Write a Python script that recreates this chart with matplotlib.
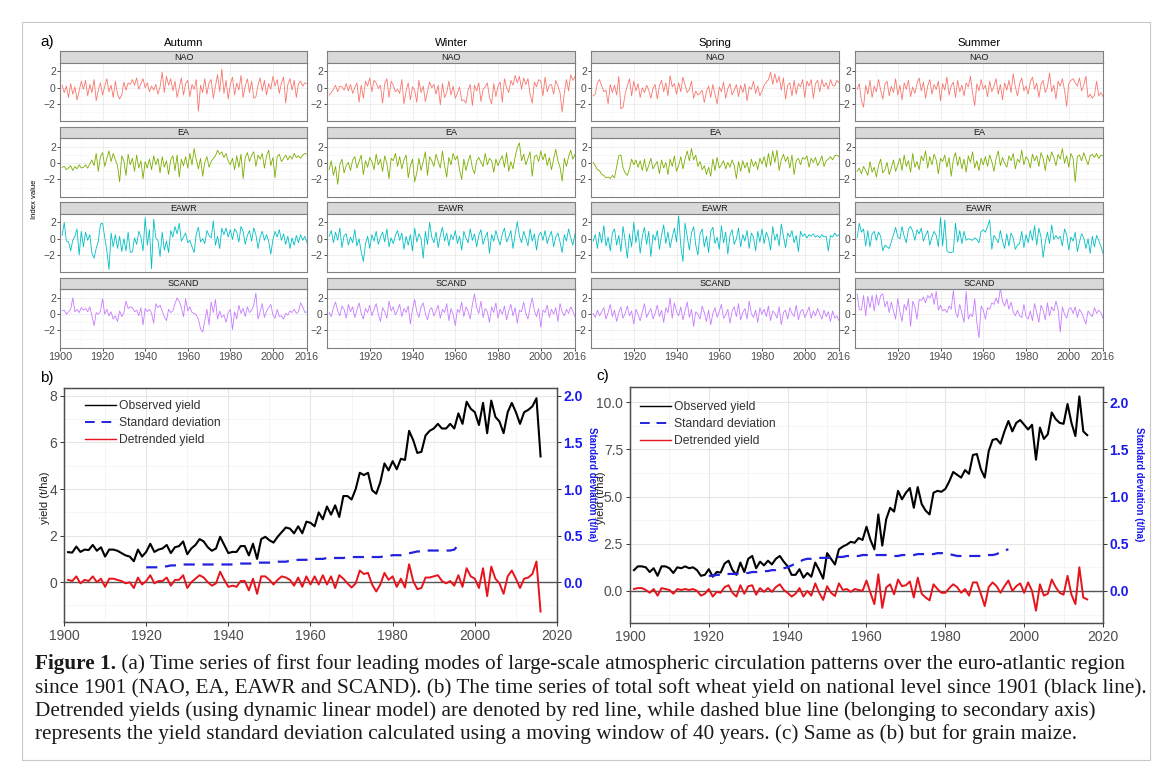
import numpy as np
import matplotlib
matplotlib.use('Agg')
import matplotlib.pyplot as plt
from matplotlib.patches import Rectangle
from matplotlib.lines import Line2D

plt.rcParams['font.family'] = ['Liberation Sans', 'DejaVu Sans']

# ---------------- data ----------------
seasons = ['Autumn', 'Winter', 'Spring', 'Summer']
indices = ['NAO', 'EA', 'EAWR', 'SCAND']
index_colors = ['#F8766D', '#7CAE00', '#00BFC4', '#C77CFF']
first_year = 1901

autumn_nao = [0.3, -0.6, 0.2, -1.2, 0.5, -0.8, 0.1, -1.5, -0.4, 0.8,
              -0.2, 0.9, -1.0, 0.4, -0.6, 1.0, -1.6, -0.3, 0.6, -0.9,
              0.2, 1.1, -0.5, 0.3, -1.2, 0.8, -0.8, -1.4, -0.9, 0.7,
              -0.3, 0.6, 0.4, 1.0, 0.3, 1.2, -0.2, 0.5, 1.1, 0.0,
              0.6, -0.5, 0.2, -0.3, 0.4, -0.8, 0.1, 1.9, -0.6, 1.4,
              0.3, 1.1, -0.4, 0.8, -1.2, 0.0, 1.2, -0.9, 0.5, 0.9,
              -1.1, 0.4, -0.2, 1.0, -2.9, 0.3, -0.6, 1.1, -0.8, 0.6,
              1.0, -1.3, 0.2, 1.6, -0.5, 2.3, -0.7, 0.9, -1.4, 0.4,
              1.3, -0.9, 0.6, -0.3, 1.5, -1.2, 0.2, 1.1, -0.6, 0.8,
              -1.3, -1.1, 0.3, 1.2, -0.4, 0.9, -0.9, 0.5, -0.2, 1.4,
              0.2, 1.0, -0.7, 0.6, 1.3, -1.9, 0.4, 1.1, -0.3, 0.9,
              -1.2, 0.5, 0.8, 0.2, 0.6, 0.5]
autumn_ea = [-0.5, -0.4, -0.8, -0.6, -0.3, -0.9, -0.4, -0.7, -0.2, -0.6,
             -0.5, -0.2, -0.6, -0.1, 0.4, -0.3, 1.2, -1.0, 0.8, 1.3,
             -0.4, 0.6, 1.5, 0.2, 1.2, 0.4, -0.3, -2.3, 0.9, 0.3,
             -1.5, 1.1, -0.2, 0.6, -1.0, 1.0, -0.6, 0.3, -1.9, 0.2,
             -0.6, 0.5, -0.8, 0.9, -0.2, 0.6, -1.2, 0.8, -0.5, 0.3,
             -1.4, 0.4, 0.9, -0.9, 1.0, -1.7, 0.5, -0.3, 0.8, -0.6,
             1.2, -0.2, 1.8, 0.4, -0.7, 0.6, -1.6, 0.1, 0.8, -0.5,
             0.2, 0.6, 0.9, 1.6, 1.1, 1.4, 0.7, 1.2, 0.3, -0.2,
             0.6, -0.8, 0.9, -0.5, 1.1, -1.9, 0.7, 1.3, 0.2, 1.0,
             1.4, -0.4, 1.0, 0.5, 1.2, -0.6, 0.9, 1.6, -0.3, 0.7,
             -1.8, 0.8, 1.1, 0.2, 0.6, 1.0, 0.4, 0.9, 0.5, 1.2,
             0.7, 0.9, 0.6, 1.0, 1.2, 1.1]
autumn_eawr = [0.4, 2.0, -0.3, -0.4, -1.5, -0.2, 0.3, 1.2, -2.0, 0.9,
               -1.0, 0.8, -0.2, 0.5, -1.8, -2.4, -1.2, -0.3, 1.8, 1.9,
               0.2, -1.5, -3.8, 0.7, -1.0, 0.5, -1.2, 0.3, -1.6, 0.0,
               -1.5, 0.8, -1.7, -1.6, 0.1, -0.7, 0.9, 0.2, -1.5, 2.6,
               -0.8, 1.1, -3.7, 2.4, 0.1, -0.2, -2.2, 0.8, -1.4, -0.3,
               -1.7, 1.0, 0.2, 1.5, 0.6, 1.9, -0.3, 0.2, 0.7, -0.5,
               -0.2, -1.0, -1.7, 0.6, 1.4, -0.4, 0.0, -0.6, 1.0, 0.4,
               0.1, 2.2, -0.8, 0.3, -1.2, 1.3, 0.5, 1.3, 0.2, 1.1,
               -0.1, 1.2, 0.8, -0.4, 1.5, 0.9, -0.7, 0.4, 1.0, -0.3,
               1.3, 0.5, -1.2, 0.2, 0.9, -0.2, 0.5, -0.3, -1.9, -0.1,
               0.9, 0.2, 1.1, -0.2, 0.6, -0.7, 0.3, -1.2, 0.1, -0.8,
               0.4, -0.5, 0.5, -0.2, 0.3, -0.5]
autumn_scand = [0.4, 0.5, 0.0, 0.3, 0.6, 2.0, 0.3, 0.6, 0.2, 0.8,
                0.5, 0.7, 0.3, 0.9, -0.2, -1.4, 0.2, 0.0, 0.4, 1.9,
                0.0, 0.6, -0.2, 0.3, -0.6, -0.2, -0.9, 0.4, -0.3, 0.2,
                1.6, 0.7, 0.9, 0.8, 0.3, 0.5, -0.2, 0.8, -1.3, 0.7,
                0.3, 0.6, 0.1, -1.1, 1.3, 0.8, 1.1, 0.4, -0.3, -0.8,
                0.6, 0.2, 0.4, 1.3, 2.0, 1.6, 0.8, -0.3, 1.9, 0.4,
                0.9, 0.2, 0.1, -0.1, -0.6, -1.8, -2.2, -0.8, 0.6, -1.3,
                1.5, 0.2, 1.8, -0.6, 0.4, -0.4, -0.1, -1.0, 0.2, 0.6,
                -1.9, 0.3, -0.6, 1.1, 0.1, 0.7, -0.3, 0.9, 0.2, 0.5,
                1.1, 2.6, -0.6, 0.3, 1.3, -0.4, 0.4, 0.8, 1.2, -0.1,
                -0.5, 0.6, -0.3, -0.2, -0.6, 0.1, -0.1, 0.4, 0.2, 0.6,
                0.1, 0.3, 1.4, 0.9, 0.2, 0.3]
winter_nao = [-0.9, -0.6, -0.2, 0.3, -0.5, 0.2, 0.1, -0.3, 0.5, -0.4,
              0.4, -0.7, 0.0, 0.6, -1.8, 0.3, -1.3, 0.8, 0.2, 1.2,
              -0.5, 0.9, 0.6, -0.1, 0.3, -1.9, 0.5, 1.1, -1.2, 0.8,
              0.3, -0.5, -0.2, -0.7, 1.0, -2.0, -0.4, 0.6, -1.5, 0.1,
              -0.3, -1.8, 0.9, -0.6, 0.2, -1.7, -0.5, 0.7, 0.0, 0.4,
              -0.8, 0.3, -2.1, 0.5, -1.2, -0.6, 0.8, -0.9, 0.2, -1.3,
              -0.7, 0.1, -1.6, -1.5, -1.9, -0.3, 0.4, -2.2, 0.3, -0.4,
              0.6, -1.7, -0.2, 0.1, 0.6, -1.2, -2.0, 0.5, -1.1, 0.2,
              0.7, -1.8, 1.1, 0.0, -0.6, 0.9, 0.3, 1.5, 0.6, 1.4,
              -0.2, 1.2, 0.4, 1.1, -0.8, -1.9, 0.7, 0.1, 1.0, 0.8,
              -1.0, 1.3, -0.5, 0.3, 0.4, -0.8, 0.9, 0.2, -0.6, -3.0,
              -0.7, 1.0, -0.4, 1.6, 0.9, 1.4]
winter_ea = [-0.8, 0.3, -1.5, -0.4, -2.6, -0.2, 0.5, -1.2, -0.3, 0.1,
             -0.9, 0.4, 0.8, -0.6, 0.2, 1.0, -1.4, 0.3, -0.5, 0.7,
             0.2, -0.8, 1.1, -0.2, 0.5, -1.0, 0.9, 0.0, -1.9, 0.6,
             0.3, 1.2, -0.4, 0.8, -0.7, 0.4, 1.0, -1.8, -0.3, 0.5,
             -2.3, -1.2, 0.6, -0.9, 0.2, 1.4, -1.5, 0.8, 0.3, -0.4,
             1.1, 0.2, -0.6, 1.5, -0.3, -1.7, 0.7, -0.2, 1.2, 0.4,
             0.9, -0.8, -2.0, 0.5, -0.9, 0.2, 1.0, -0.6, -1.3, 0.3,
             0.7, 0.1, -0.4, 1.2, -0.2, 0.6, 0.3, -1.1, 0.5, -0.3,
             0.4, 0.9, -0.5, 1.3, -1.0, 0.2, -0.7, 0.8, 1.9, 2.5,
             0.3, 1.1, -0.2, 0.6, 1.4, -1.6, 0.8, 1.0, 0.2, 1.5,
             0.4, 1.2, -0.3, 0.7, -0.8, 0.5, 1.7, 0.3, -0.5, -2.2,
             0.6, -0.4, 0.8, 1.6, 0.5, 1.1]
winter_eawr = [0.3, 1.0, -0.5, 0.8, -0.2, 1.3, -1.1, 0.4, 0.6, -0.8,
               0.2, -0.5, 1.1, -0.9, 0.0, -1.6, -2.8, -0.6, 0.3, -1.2,
               0.5, -0.3, 0.9, -0.7, 0.2, 0.8, -0.4, 1.2, -1.0, 0.1,
               -0.6, 0.4, 1.0, -0.2, 0.7, -1.3, 0.3, -0.8, 0.5, -1.5,
               1.3, -0.4, 0.6, 0.0, -2.4, 0.9, -0.7, 2.0, 0.2, -0.5,
               0.8, -1.1, 0.4, 1.4, -0.3, 0.7, -0.9, 0.5, -0.1, 1.0,
               -0.6, 0.3, -1.4, 0.9, 0.1, -0.5, 1.2, -0.2, 0.6, -1.0,
               0.4, 1.1, -0.7, 0.2, 0.8, -1.8, 0.5, -0.3, 1.0, 0.0,
               -0.8, 0.6, 1.3, -0.4, 0.2, 1.0, -1.2, 0.5, 2.1, 0.3,
               -0.5, 0.9, 0.1, -0.9, 1.2, -0.3, 0.6, -1.4, 0.4, 0.8,
               -0.2, 1.0, -0.6, 0.3, 0.9, -1.0, 0.2, 0.7, -0.4, -1.7,
               0.5, -0.3, 1.2, 0.1, -0.8, 0.6]
winter_scand = [0.2, -0.3, 0.8, 1.5, 0.4, -0.2, 1.0, 0.6, -0.5, 1.2,
                0.3, 0.9, -0.4, 0.5, 1.4, 0.1, -0.6, 0.7, 0.2, 1.1,
                -0.2, 0.6, 1.3, 0.0, -0.9, 0.8, 0.3, -0.5, 1.6, 0.4,
                0.9, -0.1, 0.5, 1.2, -0.3, 0.7, 0.2, 1.0, -1.2, 0.6,
                1.8, 0.3, -0.4, 0.9, 1.4, 0.1, -0.7, 0.5, 0.8, -0.2,
                0.4, 1.1, -0.5, 0.6, 0.2, 1.3, -0.8, 0.7, 0.0, -1.4,
                0.6, 0.2, 1.5, -0.3, 0.9, 0.4, -0.6, 1.2, 2.5, 0.8,
                0.1, 1.6, -0.4, 0.7, 0.3, -1.0, 0.9, 0.2, 1.4, -0.5,
                0.6, 0.0, 1.0, -0.7, 0.4, 1.2, -0.2, 0.8, -1.1, 0.5,
                0.3, 1.5, 0.1, -0.6, 0.9, 2.0, 0.4, -0.3, 0.7, -1.6,
                0.5, 0.2, 1.1, -0.4, 0.6, 0.0, 0.8, -0.9, 1.3, 0.3,
                -0.2, 0.6, 0.1, 0.9, 0.4, -0.3]
spring_nao = [-1.0, -0.8, 0.6, 1.0, 0.2, -0.5, -0.3, -2.0, 0.4, -0.6,
              0.3, -0.9, 1.4, -2.6, -2.4, -0.7, 0.2, 1.1, -1.0, 0.8,
              -0.4, 0.5, -1.2, 0.0, -0.6, 0.3, -0.3, -1.3, -0.1, 0.4,
              -1.4, 0.2, 0.9, -0.5, 0.6, -1.0, 1.5, 0.1, 0.5, -0.8,
              0.6, -0.5, 1.3, 0.3, -0.6, -0.2, 0.8, -1.3, -0.4, -0.9,
              -0.7, -0.3, -1.8, -0.5, 0.2, -1.2, 0.4, -0.8, -2.0, 0.1,
              -0.5, 0.7, -1.3, -0.1, 0.5, -0.9, -0.3, 0.4, -1.1, 0.3,
              -0.6, 0.5, -1.6, 0.1, -0.2, 0.8, -0.7, 0.2, -1.0, -0.4,
              0.3, 0.7, 1.0, 1.9, 0.4, 1.7, 0.6, 1.4, -0.3, 1.2,
              -1.4, 0.3, 0.6, -1.0, 0.9, -0.8, 0.5, 0.1, 1.0, -1.2,
              0.8, 0.2, 1.0, -1.3, 0.5, 0.9, -0.5, 1.0, 0.1, 0.6,
              -0.2, 1.0, 0.3, 0.2, 0.9, 0.6]
spring_ea = [0.1, -0.3, -0.8, -0.9, -1.4, -1.5, -1.8, -1.7, -1.9, -1.5,
             -1.8, -0.4, 0.9, 1.0, -0.6, -1.2, -1.5, -0.7, 0.5, -0.2,
             0.4, -0.5, 0.3, -0.9, 0.5, -1.0, -0.3, 0.6, -0.7, -0.2,
             0.2, -1.3, 0.4, -0.6, 0.1, -1.4, 0.5, -0.4, 0.9, -1.0,
             -0.3, 0.8, -0.7, 0.5, 1.5, 0.3, 1.8, 0.4, 1.0, -0.4,
             0.2, -0.8, -0.3, -1.4, -0.5, -1.6, 0.5, -0.9, 0.7, -0.6,
             -0.2, 0.3, -0.7, 0.1, -0.5, 0.4, -0.3, -1.9, 0.2, -1.0,
             0.3, -0.6, 0.1, -1.2, 0.5, -0.4, 0.2, -0.8, 0.6, -0.1,
             0.8, -0.5, 1.2, -0.3, 1.5, 0.1, 1.6, -0.9, 0.4, 1.1,
             0.2, 0.8, -0.6, 1.0, -1.4, 0.3, 0.6, -0.2, 0.7, 0.5,
             0.9, -0.5, 0.6, 0.1, 0.7, -0.3, 0.2, 0.9, -0.4, 0.3,
             0.5, 0.8, 0.4, 0.9, 1.0, 0.8]
spring_eawr = [-0.3, 0.5, -1.2, 0.8, -0.5, 1.6, -0.9, 0.2, -1.5, 0.7,
               1.2, -0.8, 0.4, -1.6, 1.5, -0.3, -2.4, 0.6, -1.0, 2.0,
               -0.5, 1.1, -1.8, 0.3, 1.4, -0.7, 0.9, -2.2, 0.5, -0.2,
               1.0, -1.3, 0.4, 1.7, -0.6, 0.8, -1.1, 0.2, 1.3, -0.4,
               2.8, -0.9, -2.8, 1.9, 0.3, -1.4, 0.7, 1.5, -0.8, -2.0,
               0.6, 1.2, -1.0, 0.3, -1.7, 0.9, 1.4, -0.6, 0.2, -1.3,
               1.6, -0.5, 0.8, -1.9, 0.4, 1.1, -0.7, 0.0, 1.3, -1.0,
               0.5, -0.3, 1.0, -1.2, 0.7, 0.2, -1.5, 0.9, -0.4, 1.2,
               -0.6, 0.8, 0.1, -1.4, 1.5, -0.2, 0.6, -0.9, 1.8, 0.3,
               -1.1, 0.7, 0.2, 1.0, -0.5, 0.4, -1.6, 0.9, 0.3, 0.6,
               0.1, 0.5, 0.3, 0.6, 0.2, 0.4, 0.1, 0.5, 0.2, 0.3,
               -1.5, 0.4, 0.2, 0.7, 0.3, 0.5]
spring_scand = [0.1, -0.4, 0.5, -0.2, 0.3, 0.8, -0.6, 0.2, 1.2, -0.3,
                0.5, -0.9, 0.2, 0.9, -0.5, 0.1, 1.0, -0.2, 0.4, -1.2,
                0.6, 0.0, -0.8, 0.3, 1.3, -0.4, 0.2, 0.7, -0.6, 0.1,
                1.1, -0.3, 0.5, -1.0, 0.8, 0.2, 2.0, -0.5, 1.4, 0.3,
                -0.2, 0.9, -0.7, 0.4, 1.5, -0.4, 0.6, -1.5, 0.3, 0.0,
                -0.6, 1.0, 0.2, -0.9, 0.5, -1.3, 0.1, 0.8, -0.4, 0.3,
                1.2, -0.5, -0.1, 0.6, -1.1, 0.4, 0.9, -0.3, 1.3, -0.7,
                0.2, 0.7, -0.6, 1.6, 0.1, -0.4, 0.5, -1.0, 0.8, 0.0,
                0.6, -0.3, 1.0, -0.8, 0.4, 0.1, -0.5, 0.9, -1.3, 0.2,
                0.5, -0.6, 0.8, 0.1, -0.3, 1.1, -0.7, 0.3, 0.6, -0.4,
                0.2, 0.9, -0.5, 0.4, -0.2, 0.7, 0.0, -0.6, 0.5, -0.3,
                0.3, -0.9, 0.4, -0.5, -0.2, -0.8]
summer_nao = [-0.2, 0.5, -1.6, -2.4, 0.3, -0.8, 0.9, -1.2, 0.2, -0.5,
              1.0, -0.3, -1.4, 0.4, 0.8, -1.0, 0.2, -0.6, 1.1, -0.9,
              0.3, -1.5, 0.6, -0.2, 0.9, -1.1, 0.1, -0.7, 0.5, 1.2,
              -0.4, 0.7, -1.3, 0.2, 1.0, -0.8, 0.4, -0.2, 0.8, -1.6,
              0.5, -0.3, 1.3, -0.9, 0.2, 0.7, -1.2, 0.9, -0.5, 0.3,
              -1.0, 0.6, 0.1, 1.4, -0.7, -2.2, 0.5, -0.4, 1.0, -0.2,
              0.3, -1.1, 0.8, -0.5, 0.2, 1.1, -0.8, 0.4, -1.5, 0.6,
              -0.3, 0.9, -0.6, 1.7, 0.1, -1.0, 0.5, 1.2, -0.4, 0.2,
              -0.8, 0.7, 1.3, -0.2, 0.6, -1.2, 0.4, 0.9, -0.6, 0.1,
              1.8, -0.5, 0.3, -1.4, 0.8, 0.2, 1.1, -0.3, -2.3, 0.5,
              0.9, 1.1, 0.6, 0.2, 1.2, -0.4, 0.3, 1.4, -1.2, -0.8,
              -1.3, -0.9, 0.8, -1.0, -0.6, -1.1]
summer_ea = [-1.0, -0.6, -1.3, -0.4, -0.9, -1.5, 0.2, -1.1, -0.5, -1.7,
             -0.3, 0.5, -1.2, -0.8, 0.1, -1.4, -0.6, 0.4, -1.0, -0.2,
             0.6, -0.9, 1.0, -0.4, 0.3, -1.1, 1.2, -0.5, 0.2, -0.8,
             0.9, 0.3, 1.5, -0.6, 0.8, -0.2, 1.1, 0.4, -1.3, 0.6,
             0.2, 1.0, -0.5, 0.7, -1.6, 0.4, 1.3, -0.3, 0.8, -0.7,
             0.5, -1.1, 0.9, 0.1, 1.4, -0.6, 0.3, -0.9, 0.6, -0.2,
             0.8, -0.4, 1.0, 0.2, -1.0, 0.6, 1.5, -0.3, 0.7, 0.0,
             -0.5, 0.9, 0.3, 1.2, -0.7, 0.5, 0.1, 1.6, -0.2, 0.8,
             0.4, -0.6, 1.1, 0.3, 0.9, -0.4, 1.3, 0.6, -0.9, 1.0,
             0.2, 1.4, 0.7, -0.3, 1.1, 0.5, 1.8, 0.0, 0.9, -0.5,
             1.2, 0.6, -2.3, 0.8, 1.0, 0.3, 1.3, 0.5, -0.2, 0.9,
             1.1, 0.7, 1.2, 0.6, 1.0, 0.9]
summer_eawr = [0.1, 1.9, 0.8, 1.2, -0.9, 1.0, -1.0, 0.6, 0.9, -0.2,
               0.8, 0.3, -1.5, -0.8, -1.0, -1.2, -0.4, 0.5, 1.4, 0.2,
               0.0, 1.5, 0.3, -0.5, 1.2, 1.5, 0.9, -0.2, 1.1, 0.6,
               1.3, -0.3, 0.4, 1.0, -0.8, 0.2, 0.9, 0.4, -1.0, 2.6,
               -0.9, 2.3, -1.5, -1.7, -1.7, -1.6, 1.9, -0.4, 1.0, -0.6,
               0.9, -0.2, 0.0, -0.1, -0.2, 0.1, -0.1, -0.5, 0.9, 1.1,
               0.8, 1.5, 2.3, -1.3, 0.4, 0.0, -0.5, 1.0, -0.3, -1.2,
               0.6, -0.9, 0.7, 0.1, -1.3, -0.8, -0.6, 0.9, -1.1, 0.5,
               -0.5, 1.0, -0.2, 1.6, -0.8, 1.3, 0.2, -2.3, -0.4, 0.8,
               -0.6, 1.7, -0.1, 0.4, 0.0, 0.3, -0.9, 1.2, 0.5, -1.4,
               0.2, -0.3, 0.8, -1.6, -0.4, 0.6, 0.1, -1.2, 0.0, -1.8,
               0.3, -1.0, 0.4, -0.2, -0.9, -1.8]
summer_scand = [2.5, 0.6, 0.5, 2.3, -0.2, 2.2, 0.8, 2.3, 0.4, 2.4,
                1.1, 2.3, 2.5, 0.9, 1.6, 0.2, 1.5, 0.4, -0.6, 1.9,
                0.3, -0.9, 1.2, 0.5, 1.9, -1.5, 1.6, 0.9, -0.6, 1.8,
                1.7, 2.1, 1.4, 2.3, 2.0, 2.6, 1.2, 2.8, 0.5, 1.1,
                0.4, 0.6, 0.2, 1.0, 0.6, 2.9, 0.3, -0.4, 1.2, 0.1,
                -1.0, 2.8, -0.6, 0.0, -0.3, 1.9, -1.0, -2.9, 1.0, 0.5,
                -0.6, 0.8, 0.6, 1.4, 1.2, 2.0, 1.3, 3.2, 1.6, 1.0,
                1.9, 0.6, 1.5, 0.3, -0.2, 0.5, -0.2, -0.4, 1.2, -0.3,
                -0.6, 0.4, -0.8, 1.3, 0.2, -1.0, 1.1, 0.5, -0.7, 1.4,
                -0.2, 0.9, 0.4, 1.6, 0.6, -2.2, 0.9, 0.0, -0.5, 0.6,
                0.8, 0.1, 0.9, -0.4, 0.6, 0.2, -0.5, -1.2, 0.4, 0.0,
                -0.3, 0.8, 0.1, 0.5, 0.2, -0.5]

index_series = {
    ('Autumn', 'NAO'): autumn_nao, ('Autumn', 'EA'): autumn_ea,
    ('Autumn', 'EAWR'): autumn_eawr, ('Autumn', 'SCAND'): autumn_scand,
    ('Winter', 'NAO'): winter_nao, ('Winter', 'EA'): winter_ea,
    ('Winter', 'EAWR'): winter_eawr, ('Winter', 'SCAND'): winter_scand,
    ('Spring', 'NAO'): spring_nao, ('Spring', 'EA'): spring_ea,
    ('Spring', 'EAWR'): spring_eawr, ('Spring', 'SCAND'): spring_scand,
    ('Summer', 'NAO'): summer_nao, ('Summer', 'EA'): summer_ea,
    ('Summer', 'EAWR'): summer_eawr, ('Summer', 'SCAND'): summer_scand,
}

# wheat (panel b), t/ha
wheat_observed = [1.29, 1.27, 1.53, 1.3, 1.4, 1.38, 1.6, 1.35, 1.5, 1.1,
                  1.4, 1.4, 1.35, 1.25, 1.15, 1.1, 0.9, 1.4, 1.1, 1.3,
                  1.65, 1.3, 1.4, 1.45, 1.6, 1.25, 1.5, 1.55, 1.75, 1.2,
                  1.45, 1.6, 1.85, 1.75, 1.5, 1.35, 1.45, 1.95, 1.6, 1.25,
                  1.3, 1.3, 1.55, 1.55, 1.15, 1.65, 1.0, 1.85, 1.95, 1.8,
                  1.7, 1.95, 2.15, 2.35, 2.3, 2.1, 2.4, 2.1, 2.6, 2.55,
                  2.4, 3.0, 2.7, 3.25, 2.9, 3.3, 2.8, 3.7, 3.7, 3.55,
                  4.0, 4.7, 4.6, 4.7, 3.95, 3.8, 4.3, 5.1, 4.8, 5.2,
                  4.85, 5.3, 5.25, 6.5, 6.1, 5.55, 5.6, 6.3, 6.5, 6.6,
                  6.8, 6.6, 6.6, 6.8, 6.6, 7.25, 6.8, 7.75, 7.45, 7.3,
                  6.75, 7.7, 6.4, 7.8, 7.1, 6.9, 6.4, 7.3, 7.7, 7.3,
                  6.8, 7.3, 7.4, 7.55, 7.9, 5.4]
wheat_detrended = [0.1, 0.05, 0.25, -0.05, 0.1, 0.05, 0.25, 0.0, 0.15, -0.2,
                   0.15, 0.15, 0.1, 0.05, -0.05, 0.0, -0.25, 0.2, -0.1, 0.05,
                   0.3, -0.05, 0.05, 0.05, 0.2, -0.15, 0.1, 0.1, 0.3, -0.25,
                   0.0, 0.15, 0.3, 0.2, 0.0, -0.15, -0.05, 0.45, 0.1, -0.2,
                   -0.15, -0.2, 0.05, 0.05, -0.35, 0.15, -0.5, 0.25, 0.25, 0.1,
                   -0.1, 0.1, 0.25, 0.2, 0.1, -0.15, 0.2, -0.2, 0.25, -0.1,
                   0.25, -0.1, 0.3, -0.1, 0.25, -0.25, 0.3, 0.15, -0.05, -0.23,
                   -0.05, 0.5, 0.35, 0.4, -0.1, -0.4, -0.1, 0.4, 0.1, 0.25,
                   -0.2, 0.15, -0.23, 0.77, 0.05, -0.3, -0.25, 0.2, 0.2, 0.25,
                   0.3, 0.05, -0.05, 0.05, -0.15, 0.3, -0.2, 0.6, 0.25, 0.15,
                   -0.25, 0.6, -0.6, 0.67, 0.15, -0.05, -0.5, 0.25, 0.5, 0.15,
                   -0.25, 0.15, 0.2, 0.35, 0.89, -1.26]
sd_first_year = 1920
wheat_sd = [0.16, 0.16, 0.16, 0.16, 0.17, 0.17, 0.18, 0.18, 0.19, 0.19,
            0.19, 0.19, 0.19, 0.19, 0.19, 0.19, 0.19, 0.19, 0.19, 0.19,
            0.19, 0.19, 0.19, 0.20, 0.20, 0.20, 0.20, 0.21, 0.21, 0.21,
            0.21, 0.21, 0.22, 0.22, 0.22, 0.23, 0.23, 0.24, 0.24, 0.24,
            0.25, 0.25, 0.25, 0.25, 0.26, 0.26, 0.26, 0.26, 0.26, 0.27,
            0.27, 0.27, 0.27, 0.27, 0.27, 0.27, 0.27, 0.27, 0.28, 0.28,
            0.29, 0.29, 0.29, 0.30, 0.31, 0.32, 0.33, 0.33, 0.34, 0.34,
            0.34, 0.34, 0.34, 0.34, 0.34, 0.35, 0.40]

# maize (panel c), t/ha
maize_observed = [1.1, 1.3, 1.3, 1.25, 1.0, 1.2, 0.8, 1.3, 1.3, 1.2,
                  0.95, 1.25, 1.2, 1.3, 1.2, 1.25, 1.1, 0.8, 0.85, 1.15,
                  0.75, 1.0, 0.97, 1.45, 1.6, 1.1, 0.85, 1.5, 1.0, 1.7,
                  1.85, 1.2, 1.55, 1.35, 1.6, 1.4, 1.7, 1.85, 1.55, 1.3,
                  0.85, 0.85, 1.15, 0.7, 0.95, 0.75, 1.5, 1.1, 0.65, 2.0,
                  1.7, 1.4, 2.2, 2.35, 2.45, 2.6, 2.55, 2.8, 2.7, 3.4,
                  2.7, 2.2, 4.05, 2.4, 3.8, 4.4, 4.2, 5.3, 4.85, 5.2,
                  5.45, 4.4, 5.5, 4.6, 4.25, 4.05, 5.2, 5.3, 5.25, 5.4,
                  5.8, 6.3, 6.15, 6.0, 6.4, 6.2, 7.2, 7.25, 6.45, 6.0,
                  7.4, 8.0, 8.05, 7.8, 8.45, 9.0, 8.45, 8.9, 9.05, 8.8,
                  8.55, 8.8, 6.95, 8.65, 8.05, 8.3, 9.45, 9.1, 8.9, 8.85,
                  9.9, 8.9, 8.2, 10.3, 8.45, 8.25]
maize_detrended = [0.1, 0.15, 0.15, 0.05, -0.1, 0.1, -0.25, 0.15, 0.1, 0.05,
                   -0.15, 0.1, 0.05, 0.1, 0.05, 0.1, 0.0, -0.25, -0.15, 0.1,
                   -0.3, -0.05, -0.1, 0.2, 0.3, -0.1, -0.3, 0.3, -0.15, 0.25,
                   0.3, -0.2, 0.15, -0.05, 0.15, -0.05, 0.2, 0.35, 0.05, -0.1,
                   -0.3, -0.15, 0.15, -0.3, 0.0, -0.25, 0.4, -0.1, -0.48, 0.25,
                   -0.1, -0.27, 0.4, 0.05, 0.1, -0.05, 0.1, 0.05, 0.0, 0.55,
                   -0.1, -0.7, 0.88, -0.9, 0.18, 0.35, -0.18, 0.6, 0.25, 0.3,
                   0.5, -0.35, 0.7, -0.15, -0.35, -0.5, 0.35, 0.1, -0.1, -0.1,
                   0.15, 0.35, 0.2, -0.1, 0.1, -0.25, 0.45, 0.45, -0.15, -0.8,
                   0.2, 0.45, 0.25, -0.1, 0.25, 0.55, 0.0, 0.25, 0.4, -0.1,
                   0.45, 0.0, -1.05, 0.35, -0.25, -0.15, 0.6, 0.2, -0.1, -0.2,
                   0.8, -0.2, -0.7, 1.25, -0.35, -0.45]
maize_sd = [0.16, 0.16, 0.17, 0.17, 0.17, 0.18, 0.18, 0.18, 0.19, 0.19,
            0.19, 0.2, 0.2, 0.2, 0.21, 0.21, 0.22, 0.22, 0.23, 0.24,
            0.25, 0.27, 0.29, 0.31, 0.33, 0.34, 0.34, 0.35, 0.35, 0.35,
            0.35, 0.35, 0.36, 0.36, 0.36, 0.37, 0.37, 0.37, 0.37, 0.38,
            0.38, 0.38, 0.38, 0.38, 0.38, 0.38, 0.38, 0.37, 0.37, 0.38,
            0.38, 0.38, 0.38, 0.39, 0.39, 0.39, 0.39, 0.39, 0.4, 0.4,
            0.4, 0.39, 0.38, 0.37, 0.37, 0.37, 0.37, 0.37, 0.37, 0.37,
            0.37, 0.38, 0.38, 0.39, 0.41, 0.43, 0.44]

caption_lines = [
    ('Figure 1.', ' (a) Time series of first four leading modes of large-scale atmospheric circulation patterns over the euro-atlantic region'),
    ('', 'since 1901 (NAO, EA, EAWR and SCAND). (b) The time series of total soft wheat yield on national level since 1901 (black line).'),
    ('', 'Detrended yields (using dynamic linear model) are denoted by red line, while dashed blue line (belonging to secondary axis)'),
    ('', 'represents the yield standard deviation calculated using a moving window of 40 years. (c) Same as (b) but for grain maize.'),
]

# ---------------- figure ----------------
W, H = 1171, 773
fig = plt.figure(figsize=(W / 100, H / 100), dpi=100)


def box(l, t, r, b):
    return [l / W, 1 - b / H, (r - l) / W, (b - t) / H]


def fx(x):
    return x / W


def fy(y):
    return 1 - y / H


fig.patches.append(Rectangle((fx(22), fy(760)), (1150 - 22) / W, (760 - 22) / H,
                             transform=fig.transFigure, fill=False,
                             edgecolor='#c8c8c8', lw=0.8))

# ---- panel a: facets ----
col_x = [(60, 307), (327, 575), (591, 839), (855, 1103)]
row_top = [51, 126.5, 202, 277.5]
strip_h = 11.5
plot_h = 58.5
tick_col = '#4d4d4d'

for ci, season in enumerate(seasons):
    l, r = col_x[ci]
    fig.text(fx((l + r) / 2), fy(43), season, ha='center', va='center', fontsize=8.2)
    for ri, idx in enumerate(indices):
        top = row_top[ri]
        sax = fig.add_axes(box(l, top, r, top + strip_h))
        sax.set_facecolor('#d9d9d9')
        sax.set_xticks([])
        sax.set_yticks([])
        for sp in sax.spines.values():
            sp.set_color('#808080')
            sp.set_linewidth(0.8)
        sax.text(0.5, 0.45, idx, transform=sax.transAxes, ha='center', va='center',
                 fontsize=6.5, color='#1a1a1a')

        ax = fig.add_axes(box(l, top + strip_h, r, top + strip_h + plot_h))
        vals = index_series[(season, idx)]
        yrs = np.arange(first_year, first_year + len(vals))
        ax.plot(yrs, vals, color=index_colors[ri], lw=0.6)
        ax.set_xlim(1900, 2016)
        ax.set_ylim(-4.1, 3.1)
        ax.set_yticks([-2, 0, 2])
        ax.set_yticks([-3, -1, 1, 3], minor=True)
        if ci == 0:
            ax.set_xticks([1900, 1920, 1940, 1960, 1980, 2000, 2016])
        else:
            ax.set_xticks([1920, 1940, 1960, 1980, 2000, 2016])
        ax.set_xticks([1910, 1930, 1950, 1970, 1990, 2008], minor=True)
        ax.grid(True, which='major', color='#ebebeb', lw=0.6)
        ax.grid(True, which='minor', color='#f4f4f4', lw=0.4)
        ax.set_axisbelow(True)
        ax.tick_params(which='minor', length=0)
        ax.tick_params(axis='y', which='major', length=2, width=0.6, color='#333333',
                       labelsize=7.5, labelcolor=tick_col, pad=1)
        if ri == 3:
            ax.tick_params(axis='x', which='major', length=2, width=0.6, color='#333333',
                           labelsize=7.8, labelcolor=tick_col, pad=1)
        else:
            ax.tick_params(axis='x', which='major', length=0, labelbottom=False)
        for sp in ax.spines.values():
            sp.set_color('#808080')
            sp.set_linewidth(0.8)

fig.text(fx(40), fy(42), 'a)', fontsize=11, ha='left', va='center')
fig.text(fx(35), fy(199), 'Index value', rotation=90, fontsize=5.5, ha='center', va='center')


# ---- panels b and c ----
def yield_panel(rect, obs, detr, sd, ylim, yticks, yminor, scale, label, lab_xy, ylab_x, sdlab_x,
                ytick_fmt, leg_xy):
    ax = fig.add_axes(rect)
    yrs = np.arange(first_year, first_year + len(obs))
    ax.plot(yrs, obs, color='black', lw=1.5, zorder=3)
    ax.plot(np.arange(first_year, first_year + len(detr)), detr, color='#e8141c', lw=1.4, zorder=3)
    ax.axhline(0, color='#555555', lw=1.0, zorder=2)
    ax.set_xlim(1900, 2020)
    ax.set_ylim(*ylim)
    ax.set_xticks(np.arange(1900, 2021, 20))
    ax.set_xticks(np.arange(1910, 2020, 20), minor=True)
    ax.set_yticks(yticks)
    ax.set_yticklabels([ytick_fmt(v) for v in yticks])
    ax.set_yticks(yminor, minor=True)
    ax.grid(True, which='major', color='#e6e6e6', lw=0.8)
    ax.grid(True, which='minor', color='#f2f2f2', lw=0.5)
    ax.set_axisbelow(True)
    ax.tick_params(which='minor', length=0)
    ax.tick_params(which='major', length=3, width=0.7, color='#333333',
                   labelsize=10, labelcolor=tick_col, pad=2)
    for sp in ax.spines.values():
        sp.set_color('#4d4d4d')
        sp.set_linewidth(0.9)

    ax2 = ax.twinx()
    ax2.set_ylim(ylim[0] / scale, ylim[1] / scale)
    sd_years = np.arange(sd_first_year, sd_first_year + len(sd))
    ax2.plot(sd_years, sd, color='#2222dd', lw=1.6, dashes=(5, 3.5), zorder=3)
    ax2.set_yticks([0.0, 0.5, 1.0, 1.5, 2.0])
    ax2.set_yticklabels(['0.0', '0.5', '1.0', '1.5', '2.0'])
    ax2.tick_params(axis='y', length=3, width=0.7, color='#333333', labelsize=10,
                    labelcolor='#1a1aee', pad=1.5)
    for t in ax2.get_yticklabels():
        t.set_fontweight('bold')
    for sp in ax2.spines.values():
        sp.set_color('#4d4d4d')
        sp.set_linewidth(0.9)

    fig.text(fx(lab_xy[0]), fy(lab_xy[1]), label, fontsize=11, ha='left', va='center')
    fig.text(fx(ylab_x), fy(498), 'yield (t/ha)', rotation=90, fontsize=8,
             ha='center', va='center', color='#1a1a1a')
    fig.text(fx(sdlab_x), fy(484), 'Standard deviation (t/ha)', rotation=-90, fontsize=7,
             ha='center', va='center', color='#1a1aee', fontweight='bold')

    handles = [Line2D([], [], color='black', lw=1.0),
               Line2D([], [], color='#2222dd', lw=1.4, dashes=(5, 3.5)),
               Line2D([], [], color='#e8141c', lw=1.0)]
    leg = ax.legend(handles, ['Observed yield', 'Standard deviation', 'Detrended yield'],
                    loc='upper left', bbox_to_anchor=(fx(leg_xy[0]), fy(leg_xy[1])),
                    bbox_transform=fig.transFigure, frameon=False, fontsize=8.7,
                    handlelength=2.6, handletextpad=0.25, labelspacing=0.42,
                    borderpad=0, borderaxespad=0)
    for t in leg.get_texts():
        t.set_color('#333333')
    return ax


yield_panel(box(64, 388, 557, 622), wheat_observed, wheat_detrended, wheat_sd,
            (-1.71, 8.34), [0, 2, 4, 6, 8], [-1, 1, 3, 5, 7], 4.0,
            'b)', (40, 378), 45, 592, lambda v: '%d' % v, (85, 400))
yield_panel(box(630, 387, 1103, 623), maize_observed, maize_detrended, maize_sd,
            (-1.7, 10.8), [0, 2.5, 5, 7.5, 10], [-1.25, 1.25, 3.75, 6.25, 8.75], 5.0,
            'c)', (596, 376), 601, 1139, lambda v: '%.1f' % v, (640, 401))

# ---- caption ----
cap_fs = 15.3
renderer = fig.canvas.get_renderer()
cap_y = [664, 688, 711, 734]
for (bold, rest), y in zip(caption_lines, cap_y):
    x0 = fx(35)
    if bold:
        t = fig.text(x0, fy(y), bold, fontsize=cap_fs, family='Liberation Serif',
                     fontweight='bold', ha='left', va='center', color='#1a1a1a')
        bb = t.get_window_extent(renderer)
        x0 = bb.x1 / W
    fig.text(x0, fy(y), rest, fontsize=cap_fs, family='Liberation Serif',
             ha='left', va='center', color='#1a1a1a')

fig.savefig('out.png', dpi=100)
